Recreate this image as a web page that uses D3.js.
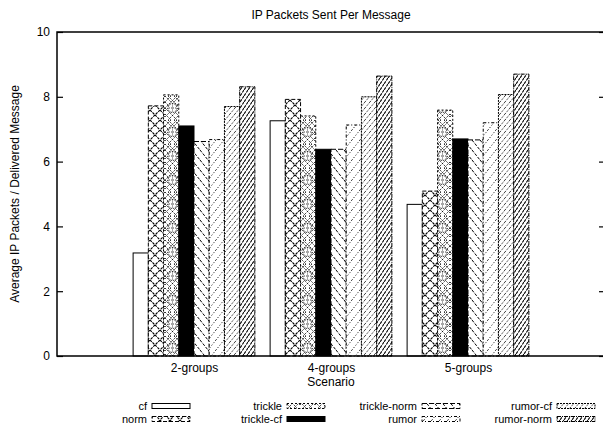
<!DOCTYPE html>
<html><head><meta charset="utf-8">
<script src="https://cdn.jsdelivr.net/npm/d3@7"></script>
<style>
body{margin:0;background:#fff;}
text{font-family:"Liberation Sans",Arial,Helvetica,sans-serif;fill:#000;}
</style></head>
<body><svg id="c" width="603" height="431"></svg>
<script>
const categories = ["2-groups","4-groups","5-groups"];
const seriesNames = ["cf","norm","trickle","trickle-cf","trickle-norm","rumor","rumor-cf","rumor-norm"];
const cf          = [3.18, 7.26, 4.68];
const norm        = [7.72, 7.92, 5.09];
const trickle     = [8.06, 7.41, 7.59];
const trickleCf   = [7.10, 6.38, 6.70];
const trickleNorm = [6.62, 6.38, 6.67];
const rumor       = [6.68, 7.13, 7.20];
const rumorCf     = [7.70, 8.00, 8.07];
const rumorNorm   = [8.31, 8.64, 8.70];
const yTicks = [0,2,4,6,8,10];

const seriesValues = [cf,norm,trickle,trickleCf,trickleNorm,rumor,rumorCf,rumorNorm];

const svg = d3.select("#c");
const L=57, R=605, T=32, B=356;
const x = d3.scaleLinear().domain([-1,3]).range([L,R]);
const y = d3.scaleLinear().domain([0,10]).range([B,T]);

// patterns
const defs = svg.append("defs");
function pat(id,w,h){return defs.append("pattern").attr("id",id).attr("patternUnits","userSpaceOnUse").attr("width",w).attr("height",h);}
let p;
p=pat("p-norm",10,10);
p.append("rect").attr("width",10).attr("height",10).attr("fill","#fff");
p.append("path").attr("d","M0,0L10,10M10,0L0,10M-1,9L1,11M9,-1L11,1").attr("stroke","#000").attr("stroke-width",1.1).attr("stroke-dasharray","2.5,1");
p=pat("p-trickle",15,24);
p.append("rect").attr("width",15).attr("height",24).attr("fill","#fff");
p.append("path").attr("d","M0,0L15,15M0,6L15,21M0,12L12,24M0,18L6,24M3,0L15,12M9,0L15,6M15,0L0,15M15,6L0,21M15,12L3,24M15,18L9,24M12,0L0,12M6,0L0,6").attr("stroke","#000").attr("stroke-width",0.8).attr("stroke-dasharray","1.5,1");
p.append("circle").attr("cx",7.5).attr("cy",12).attr("r",4.5).attr("fill","#fff").attr("stroke","#000").attr("stroke-width",0.9).attr("stroke-dasharray","1.5,1");
p.append("path").attr("d","M7.5,8.5V15.5M4,12H11").attr("stroke","#000").attr("stroke-width",0.7).attr("stroke-dasharray","1,1");
p=pat("p-tnorm",8,10);
p.append("rect").attr("width",8).attr("height",10).attr("fill","#fff");
p.append("path").attr("d","M0,0L8,10M-8,0L8,20M0,-10L16,10").attr("stroke","#000").attr("stroke-width",1).attr("stroke-dasharray","3,1.5");
p=pat("p-rumor",8,10);
p.append("rect").attr("width",8).attr("height",10).attr("fill","#fff");
p.append("path").attr("d","M8,0L0,10M16,0L0,20M8,-10L-8,10").attr("stroke","#000").attr("stroke-width",1).attr("stroke-dasharray","1,2");
p=pat("p-rcf",5,6);
p.append("rect").attr("width",5).attr("height",6).attr("fill","#fff");
p.append("path").attr("d","M5,0L0,6M10,0L0,12M5,-6L-5,6").attr("stroke","#000").attr("stroke-width",1).attr("stroke-dasharray","1,1.2");
p=pat("p-rnorm",4,6);
p.append("rect").attr("width",4).attr("height",6).attr("fill","#fff");
p.append("path").attr("d","M4,0L0,6M8,0L0,12M4,-6L-4,6").attr("stroke","#000").attr("stroke-width",1.1).attr("stroke-dasharray","3,1");

const styles = [
  {fill:"#fff", dash:null},
  {fill:"url(#p-norm)", dash:"4,2"},
  {fill:"url(#p-trickle)", dash:"2,2"},
  {fill:"#000", dash:null},
  {fill:"url(#p-tnorm)", dash:"5,2"},
  {fill:"url(#p-rumor)", dash:"3,2,1,2"},
  {fill:"url(#p-rcf)", dash:"2,1"},
  {fill:"url(#p-rnorm)", dash:"4,1,1,1"}
];

// bars
const n = seriesNames.length, gap = 1;
seriesValues.forEach((vals,j)=>{
  const g = svg.append("g");
  g.selectAll("rect").data(vals).join("rect")
    .attr("x",(d,i)=>x(i+(j-n/2)/(n+gap)))
    .attr("width",(d,i)=>x(i+(j-n/2+1)/(n+gap))-x(i+(j-n/2)/(n+gap)))
    .attr("y",d=>y(d))
    .attr("height",d=>B-y(d))
    .attr("fill",styles[j].fill)
    .attr("stroke","#000").attr("stroke-width",1)
    .attr("stroke-dasharray",styles[j].dash);
});

// frame
svg.append("path").attr("d",`M${R},${T}H${L}V${B}H${R}`).attr("fill","none").attr("stroke","#000").attr("stroke-width",1.5);

// y axis
const yAxis = d3.axisLeft(y).tickValues(yTicks).tickSize(-6).tickPadding(7).tickFormat(d3.format("d"));
const ya = svg.append("g").attr("transform",`translate(${L},0)`).call(yAxis);
ya.select(".domain").remove();
ya.selectAll("line").attr("stroke-width",1.2);
ya.selectAll("text").attr("font-size",12).attr("font-family","Liberation Sans, Arial, sans-serif");
const yAxisR = d3.axisRight(y).tickValues(yTicks).tickSize(-6).tickFormat("");
const yr = svg.append("g").attr("transform",`translate(${R},0)`).call(yAxisR);
yr.select(".domain").remove();
yr.selectAll("line").attr("stroke-width",1.2);

// x axis labels
const xAxis = d3.axisBottom(x).tickValues([0,1,2]).tickSize(0).tickPadding(7).tickFormat(i=>categories[i]);
const xa = svg.append("g").attr("transform",`translate(0,${B})`).call(xAxis);
xa.select(".domain").remove();
xa.selectAll("text").attr("font-size",12).attr("font-family","Liberation Sans, Arial, sans-serif");

// titles
svg.append("text").attr("x",(L+R)/2).attr("y",19).attr("text-anchor","middle").attr("font-size",12).text("IP Packets Sent Per Message");
svg.append("text").attr("x",(L+R)/2).attr("y",386).attr("text-anchor","middle").attr("font-size",12).text("Scenario");
svg.append("text").attr("transform",`translate(19,${(T+B)/2}) rotate(-90)`).attr("text-anchor","middle").attr("font-size",12).text("Average IP Packets / Delivered Message");

// legend
const colX = [152,287,422,557];
const rowY = [410,423];
seriesNames.forEach((name,j)=>{
  const c = Math.floor(j/2), r = j%2;
  const bx = colX[c];
  svg.append("text").attr("x",bx-5).attr("y",rowY[r]).attr("text-anchor","end").attr("font-size",11).text(name);
  svg.append("rect").attr("x",bx).attr("y",rowY[r]-6.5).attr("width",38).attr("height",5)
    .attr("fill",styles[j].fill).attr("stroke","#000").attr("stroke-width",1)
    .attr("stroke-dasharray",styles[j].dash);
});
</script></body></html>
